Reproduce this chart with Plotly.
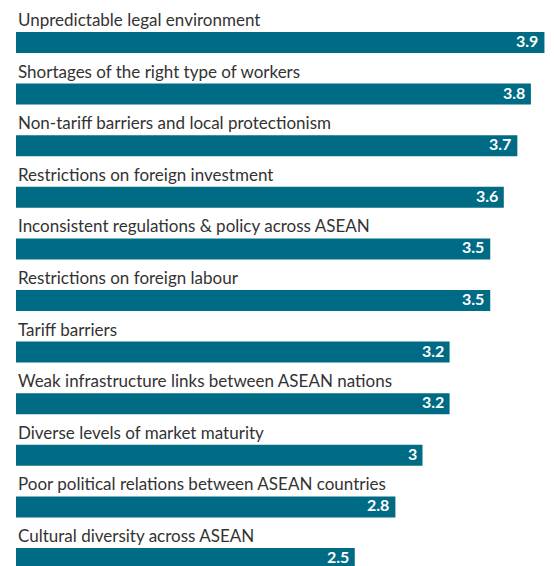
import plotly.graph_objects as go

# Obstacles to doing business in ASEAN, average score
categories = [
    "Unpredictable legal environment",
    "Shortages of the right type of workers",
    "Non-tariff barriers and local protectionism",
    "Restrictions on foreign investment",
    "Inconsistent regulations & policy across ASEAN",
    "Restrictions on foreign labour",
    "Tariff barriers",
    "Weak infrastructure links between ASEAN nations",
    "Diverse levels of market maturity",
    "Poor political relations between ASEAN countries",
    "Cultural diversity across ASEAN",
]
scores = [3.9, 3.8, 3.7, 3.6, 3.5, 3.5, 3.2, 3.2, 3.0, 2.8, 2.5]

BAR_COLOR = "#006b85"
LABEL_FONT = "Lato, 'Noto Sans', sans-serif"

W, H = 554, 566
LEFT = 16
PX_PER_UNIT = 135.5
ROW = 51.6
FIRST_CENTER = 42.5
BAR_PX = 21

x_max = (W - LEFT) / PX_PER_UNIT
y_top = -FIRST_CENTER / ROW
y_bottom = (H - FIRST_CENTER) / ROW

fig = go.Figure(
    go.Bar(
        x=scores,
        y=categories,
        orientation="h",
        marker=dict(color=BAR_COLOR, line=dict(width=0)),
        width=BAR_PX / ROW,
        hoverinfo="skip",
    )
)

annotations = []
for cat, val in zip(categories, scores):
    # category name above its bar
    annotations.append(dict(
        x=0, y=cat, xref="x", yref="y",
        text=cat, showarrow=False,
        xanchor="left", yanchor="middle",
        xshift=0, yshift=23,
        font=dict(family=LABEL_FONT, size=17, color="#333333"),
    ))
    # value at the end of the bar
    annotations.append(dict(
        x=val, y=cat, xref="x", yref="y",
        text=f"{val:g}", showarrow=False,
        xanchor="right", yanchor="middle",
        xshift=-4, yshift=2,
        font=dict(family=LABEL_FONT, size=16, color="white", weight="bold"),
    ))

fig.update_layout(
    width=W, height=H,
    margin=dict(l=LEFT, r=0, t=0, b=0),
    paper_bgcolor="white", plot_bgcolor="white",
    showlegend=False,
    annotations=annotations,
    xaxis=dict(range=[0, x_max], visible=False, fixedrange=True),
    yaxis=dict(
        type="category", categoryorder="array", categoryarray=categories,
        range=[y_bottom, y_top], visible=False, fixedrange=True,
    ),
)

fig.write_html("out.html")
